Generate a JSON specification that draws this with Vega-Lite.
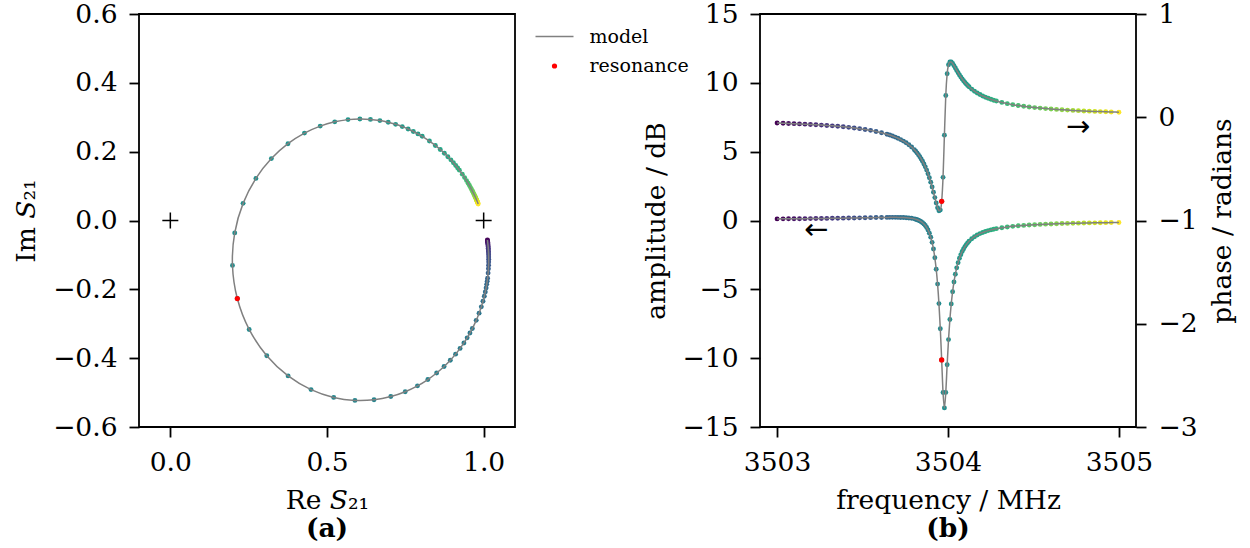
{
"$schema": "https://vega.github.io/schema/vega-lite/v6.json",
"padding": {"left": 12, "top": 0, "right": 5, "bottom": 0},
"background": "white",
"config": {
  "font": "DejaVu Serif",
  "view": {"stroke": "black", "strokeWidth": 1.8},
  "axis": {"domain": false, "grid": false, "tickColor": "black", "tickWidth": 1.8, "tickSize": 10, "labelPadding": 12, "labelFont": "DejaVu Serif", "labelFontSize": 26.5, "labelColor": "black", "titleFont": "DejaVu Serif", "titleFontSize": 26.5, "titleFontWeight": "normal", "titleColor": "black", "labelFlush": false, "labelOverlap": false, "titlePadding": 12}
},
"datasets": {
  "s": [
{"f":3503.000,"re":1.0120,"im":-0.0566,"amp":0.117,"ph":-0.0558},
{"f":3503.035,"re":1.0123,"im":-0.0587,"amp":0.1205,"ph":-0.0579},
{"f":3503.067,"re":1.0126,"im":-0.0607,"amp":0.1239,"ph":-0.0599},
{"f":3503.099,"re":1.0128,"im":-0.0630,"amp":0.1276,"ph":-0.0621},
{"f":3503.131,"re":1.0131,"im":-0.0654,"amp":0.1313,"ph":-0.0644},
{"f":3503.163,"re":1.0134,"im":-0.0679,"amp":0.1353,"ph":-0.0669},
{"f":3503.195,"re":1.0137,"im":-0.0707,"amp":0.1396,"ph":-0.0697},
{"f":3503.227,"re":1.0141,"im":-0.0738,"amp":0.1441,"ph":-0.0726},
{"f":3503.259,"re":1.0144,"im":-0.0771,"amp":0.1490,"ph":-0.0759},
{"f":3503.291,"re":1.0147,"im":-0.0808,"amp":0.1540,"ph":-0.0794},
{"f":3503.323,"re":1.0150,"im":-0.0848,"amp":0.1594,"ph":-0.0833},
{"f":3503.355,"re":1.0153,"im":-0.0892,"amp":0.1651,"ph":-0.0876},
{"f":3503.387,"re":1.0156,"im":-0.0941,"amp":0.1712,"ph":-0.0924},
{"f":3503.419,"re":1.0158,"im":-0.0996,"amp":0.1775,"ph":-0.0977},
{"f":3503.451,"re":1.0160,"im":-0.1057,"amp":0.1842,"ph":-0.1037},
{"f":3503.483,"re":1.0160,"im":-0.1127,"amp":0.1913,"ph":-0.1105},
{"f":3503.515,"re":1.0160,"im":-0.1207,"amp":0.1985,"ph":-0.1182},
{"f":3503.547,"re":1.0157,"im":-0.1298,"amp":0.2059,"ph":-0.1271},
{"f":3503.579,"re":1.0152,"im":-0.1404,"amp":0.2132,"ph":-0.1375},
{"f":3503.611,"re":1.0142,"im":-0.1529,"amp":0.2199,"ph":-0.1496},
{"f":3503.643,"re":1.0125,"im":-0.1677,"amp":0.2254,"ph":-0.1641},
{"f":3503.659,"re":1.0113,"im":-0.1762,"amp":0.2273,"ph":-0.1725},
{"f":3503.675,"re":1.0097,"im":-0.1855,"amp":0.2282,"ph":-0.1817},
{"f":3503.691,"re":1.0078,"im":-0.1959,"amp":0.2281,"ph":-0.1920},
{"f":3503.707,"re":1.0052,"im":-0.2074,"amp":0.2263,"ph":-0.2035},
{"f":3503.723,"re":1.0020,"im":-0.2203,"amp":0.2223,"ph":-0.2164},
{"f":3503.739,"re":0.9978,"im":-0.2346,"amp":0.2149,"ph":-0.2310},
{"f":3503.755,"re":0.9925,"im":-0.2509,"amp":0.2032,"ph":-0.2476},
{"f":3503.771,"re":0.9854,"im":-0.2692,"amp":0.1852,"ph":-0.2667},
{"f":3503.787,"re":0.9762,"im":-0.2901,"amp":0.1583,"ph":-0.2888},
{"f":3503.803,"re":0.9639,"im":-0.3138,"amp":0.1182,"ph":-0.3148},
{"f":3503.811,"re":0.9562,"im":-0.3269,"amp":0.0914,"ph":-0.3294},
{"f":3503.819,"re":0.9473,"im":-0.3409,"amp":0.0589,"ph":-0.3454},
{"f":3503.827,"re":0.9369,"im":-0.3558,"amp":0.0190,"ph":-0.3629},
{"f":3503.835,"re":0.9247,"im":-0.3716,"amp":-0.0296,"ph":-0.3821},
{"f":3503.843,"re":0.9104,"im":-0.3883,"amp":-0.0893,"ph":-0.4032},
{"f":3503.851,"re":0.8935,"im":-0.4059,"amp":-0.1630,"ph":-0.4264},
{"f":3503.859,"re":0.8736,"im":-0.4242,"amp":-0.2543,"ph":-0.4521},
{"f":3503.867,"re":0.8499,"im":-0.4431,"amp":-0.3683,"ph":-0.4805},
{"f":3503.875,"re":0.8219,"im":-0.4620,"amp":-0.5109,"ph":-0.5121},
{"f":3503.883,"re":0.7888,"im":-0.4804,"amp":-0.6907,"ph":-0.5471},
{"f":3503.891,"re":0.7496,"im":-0.4974,"amp":-0.9192,"ph":-0.5859},
{"f":3503.899,"re":0.7036,"im":-0.5115,"amp":-1.2113,"ph":-0.6286},
{"f":3503.907,"re":0.6501,"im":-0.5208,"amp":-1.5873,"ph":-0.6753},
{"f":3503.915,"re":0.5892,"im":-0.5227,"amp":-2.0742,"ph":-0.7257},
{"f":3503.923,"re":0.5214,"im":-0.5140,"amp":-2.7081,"ph":-0.7782},
{"f":3503.931,"re":0.4490,"im":-0.4913,"amp":-3.5365,"ph":-0.8303},
{"f":3503.939,"re":0.3759,"im":-0.4515,"amp":-4.6208,"ph":-0.8765},
{"f":3503.947,"re":0.3078,"im":-0.3929,"amp":-6.0365,"ph":-0.9063},
{"f":3503.955,"re":0.2516,"im":-0.3165,"amp":-7.8647,"ph":-0.8992},
{"f":3503.963,"re":0.2138,"im":-0.2267,"amp":-10.128,"ph":-0.8147},
{"f":3503.971,"re":0.1983,"im":-0.1305,"amp":-12.491,"ph":-0.5819},
{"f":3503.979,"re":0.2055,"im":-0.0360,"amp":-13.613,"ph":-0.1733},
{"f":3503.987,"re":0.2322,"im":0.0498,"amp":-12.488,"ph":0.2112},
{"f":3503.995,"re":0.2731,"im":0.1223,"amp":-10.479,"ph":0.4210},
{"f":3504.003,"re":0.3225,"im":0.1799,"amp":-8.652,"ph":0.5088},
{"f":3504.011,"re":0.3754,"im":0.2232,"amp":-7.196,"ph":0.5363},
{"f":3504.019,"re":0.4281,"im":0.2539,"amp":-6.060,"ph":0.5352},
{"f":3504.027,"re":0.4784,"im":0.2743,"amp":-5.171,"ph":0.5206},
{"f":3504.035,"re":0.5248,"im":0.2867,"amp":-4.466,"ph":0.5000},
{"f":3504.043,"re":0.5671,"im":0.2931,"amp":-3.899,"ph":0.4770},
{"f":3504.051,"re":0.6050,"im":0.2950,"amp":-3.439,"ph":0.4538},
{"f":3504.059,"re":0.6387,"im":0.2938,"amp":-3.060,"ph":0.4311},
{"f":3504.067,"re":0.6688,"im":0.2903,"amp":-2.745,"ph":0.4096},
{"f":3504.075,"re":0.6954,"im":0.2854,"amp":-2.479,"ph":0.3894},
{"f":3504.083,"re":0.7190,"im":0.2794,"amp":-2.254,"ph":0.3706},
{"f":3504.091,"re":0.7401,"im":0.2728,"amp":-2.062,"ph":0.3532},
{"f":3504.099,"re":0.7588,"im":0.2658,"amp":-1.895,"ph":0.3370},
{"f":3504.107,"re":0.7755,"im":0.2587,"amp":-1.750,"ph":0.3221},
{"f":3504.115,"re":0.7904,"im":0.2516,"amp":-1.624,"ph":0.3082},
{"f":3504.123,"re":0.8039,"im":0.2446,"amp":-1.512,"ph":0.2954},
{"f":3504.139,"re":0.8269,"im":0.2309,"amp":-1.325,"ph":0.2723},
{"f":3504.155,"re":0.8458,"im":0.2181,"amp":-1.176,"ph":0.2524},
{"f":3504.171,"re":0.8614,"im":0.2063,"amp":-1.054,"ph":0.2350},
{"f":3504.187,"re":0.8746,"im":0.1954,"amp":-0.952,"ph":0.2198},
{"f":3504.203,"re":0.8857,"im":0.1854,"amp":-0.868,"ph":0.2063},
{"f":3504.219,"re":0.8953,"im":0.1762,"amp":-0.796,"ph":0.1943},
{"f":3504.235,"re":0.9035,"im":0.1678,"amp":-0.734,"ph":0.1836},
{"f":3504.251,"re":0.9107,"im":0.1600,"amp":-0.681,"ph":0.1740},
{"f":3504.267,"re":0.9170,"im":0.1529,"amp":-0.634,"ph":0.1652},
{"f":3504.283,"re":0.9225,"im":0.1463,"amp":-0.593,"ph":0.1573},
{"f":3504.315,"re":0.9318,"im":0.1347,"amp":-0.524,"ph":0.1436},
{"f":3504.347,"re":0.9392,"im":0.1246,"amp":-0.469,"ph":0.1319},
{"f":3504.379,"re":0.9453,"im":0.1159,"amp":-0.424,"ph":0.1220},
{"f":3504.411,"re":0.9504,"im":0.1083,"amp":-0.386,"ph":0.1135},
{"f":3504.443,"re":0.9546,"im":0.1016,"amp":-0.355,"ph":0.1060},
{"f":3504.475,"re":0.9582,"im":0.0956,"amp":-0.328,"ph":0.0995},
{"f":3504.507,"re":0.9614,"im":0.0903,"amp":-0.304,"ph":0.0937},
{"f":3504.539,"re":0.9641,"im":0.0855,"amp":-0.284,"ph":0.0885},
{"f":3504.571,"re":0.9664,"im":0.0812,"amp":-0.266,"ph":0.0838},
{"f":3504.603,"re":0.9685,"im":0.0773,"amp":-0.250,"ph":0.0797},
{"f":3504.635,"re":0.9704,"im":0.0738,"amp":-0.236,"ph":0.0759},
{"f":3504.667,"re":0.9721,"im":0.0705,"amp":-0.223,"ph":0.0724},
{"f":3504.699,"re":0.9736,"im":0.0675,"amp":-0.212,"ph":0.0692},
{"f":3504.731,"re":0.9749,"im":0.0648,"amp":-0.202,"ph":0.0663},
{"f":3504.763,"re":0.9761,"im":0.0622,"amp":-0.192,"ph":0.0637},
{"f":3504.795,"re":0.9772,"im":0.0599,"amp":-0.184,"ph":0.0612},
{"f":3504.827,"re":0.9783,"im":0.0577,"amp":-0.176,"ph":0.0589},
{"f":3504.859,"re":0.9792,"im":0.0557,"amp":-0.169,"ph":0.0568},
{"f":3504.891,"re":0.9801,"im":0.0537,"amp":-0.162,"ph":0.0548},
{"f":3504.923,"re":0.9809,"im":0.0520,"amp":-0.156,"ph":0.0529},
{"f":3504.955,"re":0.9816,"im":0.0503,"amp":-0.150,"ph":0.0512},
{"f":3505.000,"re":0.9825,"im":0.0481,"amp":-0.143,"ph":0.0489}
  ],
  "res": [{"lab":"resonance","f":3503.963,"re":0.2138,"im":-0.2267,"amp":-10.128,"ph":-0.8147}],
  "cross": [{"re":0,"im":0},{"re":1,"im":0}],
  "arrL": [{"f":3503.229,"v":-0.71,"t":"←"}],
  "arrR": [{"f":3504.762,"v":-0.0915,"t":"→"}]
},
"bounds": "flush",
"spacing": 245,
"resolve": {"legend": {"shape": "independent", "size": "independent", "stroke": "independent"}},
"hconcat": [
  {
    "width": 376, "height": 413,
    "title": {"text": "(a)", "orient": "bottom", "fontWeight": "bold", "fontSize": 26.5, "font": "DejaVu Serif", "color": "black", "offset": 2},
    "layer": [
      {"data": {"name": "s"}, "mark": {"type": "point", "filled": true, "opacity": 1, "size": 24, "strokeWidth": 0},
       "encoding": {
         "x": {"field": "re", "type": "quantitative", "scale": {"domain": [-0.1, 1.1], "nice": false, "zero": false}, "axis": {"values": [0, 0.5, 1], "format": ".1f", "title": "Re 𝑆₂₁"}},
         "y": {"field": "im", "type": "quantitative", "scale": {"domain": [-0.6, 0.6], "nice": false, "zero": false}, "axis": {"values": [-0.6, -0.4, -0.2, 0, 0.2, 0.4, 0.6], "format": ".1f", "title": "Im 𝑆₂₁"}},
         "color": {"field": "f", "type": "quantitative", "scale": {"scheme": "viridis", "domain": [3503, 3505]}, "legend": null}
       }},
      {"data": {"name": "s"}, "mark": {"type": "line", "color": "#808080", "strokeWidth": 1.5, "interpolate": "catmull-rom"},
       "encoding": {"x": {"field": "re", "type": "quantitative"}, "y": {"field": "im", "type": "quantitative"}, "order": {"field": "f", "type": "quantitative"}}},
      {"data": {"name": "res"}, "mark": {"type": "point", "filled": true, "color": "red", "opacity": 1, "strokeWidth": 1.5},
       "encoding": {"x": {"field": "re", "type": "quantitative"}, "y": {"field": "im", "type": "quantitative"},
         "shape": {"field": "lab", "type": "ordinal", "scale": {"domain": ["model", "resonance"], "range": ["stroke", "circle"]},
           "legend": {"title": null, "orient": "right", "offset": 16.5, "padding": 2.5, "labelFont": "DejaVu Serif", "labelFontSize": 19, "labelColor": "black", "labelOffset": 15, "rowPadding": 10, "symbolStrokeWidth": 1.5, "symbolOpacity": 1}},
         "size": {"field": "lab", "type": "ordinal", "scale": {"domain": ["model", "resonance"], "range": [1444, 14]},
           "legend": {"title": null, "orient": "right", "offset": 16.5, "padding": 2.5, "labelFont": "DejaVu Serif", "labelFontSize": 19, "labelColor": "black", "labelOffset": 15, "rowPadding": 10, "symbolStrokeWidth": 1.5, "symbolOpacity": 1}},
         "stroke": {"field": "lab", "type": "ordinal", "scale": {"domain": ["model", "resonance"], "range": ["#808080", "red"]},
           "legend": {"title": null, "orient": "right", "offset": 16.5, "padding": 2.5, "labelFont": "DejaVu Serif", "labelFontSize": 19, "labelColor": "black", "labelOffset": 15, "rowPadding": 10, "symbolStrokeWidth": 1.5, "symbolOpacity": 1}}
       }},
      {"data": {"name": "cross"}, "mark": {"type": "point", "shape": "M-1,0L1,0M0,-1L0,1", "filled": false, "color": "black", "strokeWidth": 1.5, "size": 256, "opacity": 1},
       "encoding": {"x": {"field": "re", "type": "quantitative"}, "y": {"field": "im", "type": "quantitative"}}}
    ]
  },
  {
    "width": 376, "height": 413,
    "title": {"text": "(b)", "orient": "bottom", "fontWeight": "bold", "fontSize": 26.5, "font": "DejaVu Serif", "color": "black", "offset": 2},
    "resolve": {"scale": {"y": "independent"}},
    "layer": [
      {"layer": [
        {"data": {"name": "s"}, "mark": {"type": "point", "filled": true, "opacity": 1, "size": 24, "strokeWidth": 0},
         "encoding": {
           "x": {"field": "f", "type": "quantitative", "scale": {"domain": [3502.9, 3505.1], "nice": false, "zero": false}, "axis": {"values": [3503, 3504, 3505], "format": "d", "title": "frequency / MHz"}},
           "y": {"field": "amp", "type": "quantitative", "scale": {"domain": [-15, 15], "nice": false, "zero": false}, "axis": {"values": [-15, -10, -5, 0, 5, 10, 15], "format": "d", "title": "amplitude / dB", "orient": "left"}},
           "color": {"field": "f", "type": "quantitative", "scale": {"scheme": "viridis", "domain": [3503, 3505]}, "legend": null}
         }},
        {"data": {"name": "s"}, "mark": {"type": "line", "color": "#808080", "strokeWidth": 1.5, "interpolate": "monotone"},
         "encoding": {"x": {"field": "f", "type": "quantitative"}, "y": {"field": "amp", "type": "quantitative"}}},
        {"data": {"name": "res"}, "mark": {"type": "point", "filled": true, "color": "red", "opacity": 1, "size": 28, "strokeWidth": 0},
         "encoding": {"x": {"field": "f", "type": "quantitative"}, "y": {"field": "amp", "type": "quantitative"}}},
        {"data": {"name": "arrL"}, "mark": {"type": "text", "font": "DejaVu Sans", "fontSize": 29, "color": "black", "baseline": "middle", "align": "center"},
         "encoding": {"x": {"field": "f", "type": "quantitative"}, "y": {"field": "v", "type": "quantitative"}, "text": {"field": "t"}}}
      ]},
      {"layer": [
        {"data": {"name": "s"}, "mark": {"type": "point", "filled": true, "opacity": 1, "size": 24, "strokeWidth": 0},
         "encoding": {
           "x": {"field": "f", "type": "quantitative"},
           "y": {"field": "ph", "type": "quantitative", "scale": {"domain": [-3, 1], "nice": false, "zero": false}, "axis": {"values": [-3, -2, -1, 0, 1], "format": "d", "title": "phase / radians", "orient": "right", "titleAngle": 270, "titleBaseline": "top"}},
           "color": {"field": "f", "type": "quantitative", "legend": null}
         }},
        {"data": {"name": "s"}, "mark": {"type": "line", "color": "#808080", "strokeWidth": 1.5, "interpolate": "monotone"},
         "encoding": {"x": {"field": "f", "type": "quantitative"}, "y": {"field": "ph", "type": "quantitative"}}},
        {"data": {"name": "res"}, "mark": {"type": "point", "filled": true, "color": "red", "opacity": 1, "size": 28, "strokeWidth": 0},
         "encoding": {"x": {"field": "f", "type": "quantitative"}, "y": {"field": "ph", "type": "quantitative"}}},
        {"data": {"name": "arrR"}, "mark": {"type": "text", "font": "DejaVu Sans", "fontSize": 29, "color": "black", "baseline": "middle", "align": "center"},
         "encoding": {"x": {"field": "f", "type": "quantitative"}, "y": {"field": "v", "type": "quantitative"}, "text": {"field": "t"}}}
      ]}
    ]
  }
]
}
